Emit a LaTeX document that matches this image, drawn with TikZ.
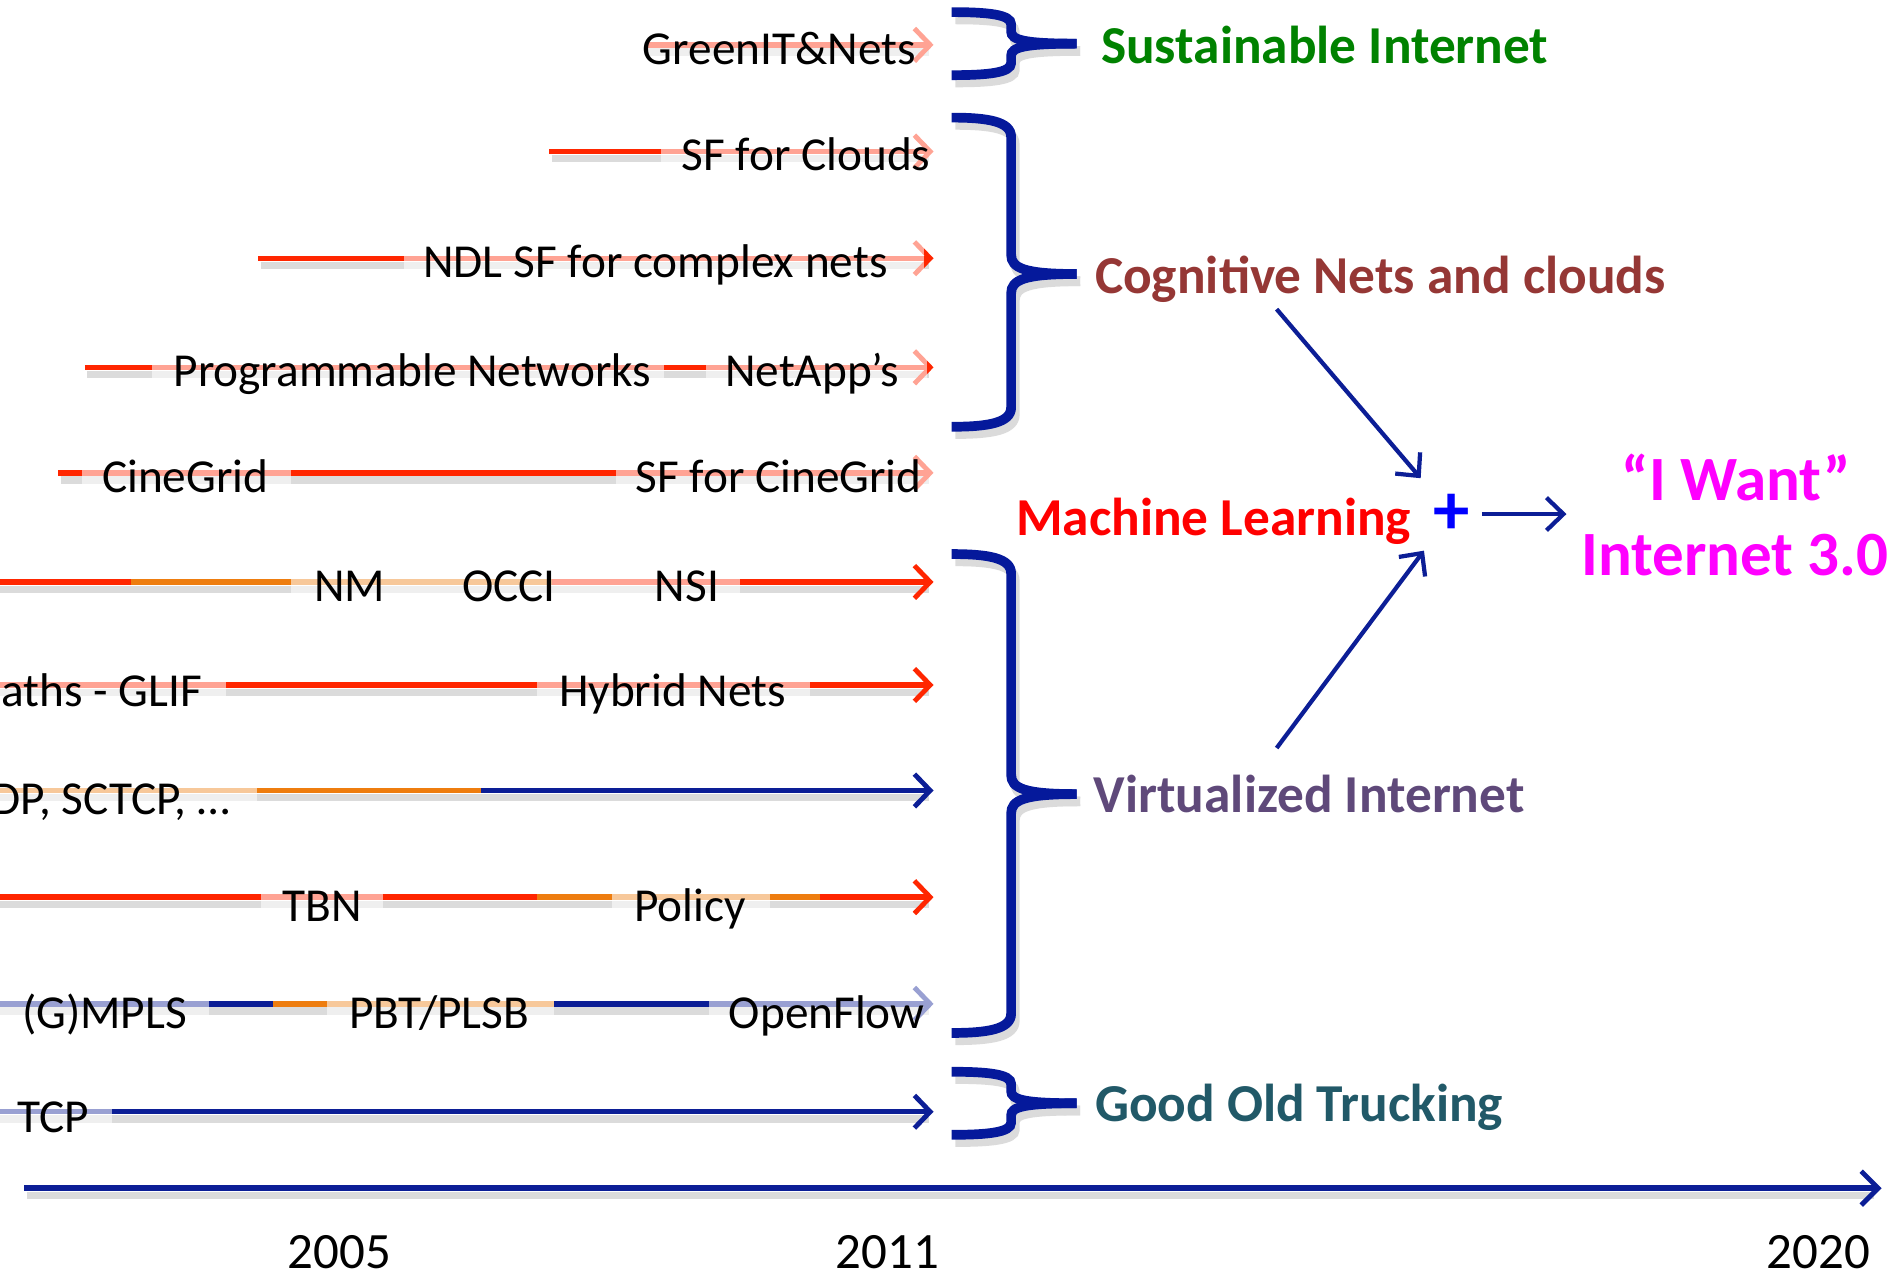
\documentclass[tikz,border=0pt]{standalone}
\usepackage{fontspec}
\setmainfont{Carlito}
\usetikzlibrary{arrows.meta}
\definecolor{lred}{RGB}{255,38,0}
\definecolor{lorange}{RGB}{238,125,15}
\definecolor{navy}{RGB}{12,30,150}
\definecolor{bnavy}{RGB}{5,25,155}
\definecolor{sgreen}{RGB}{0,130,0}
\definecolor{cogn}{RGB}{149,55,53}
\definecolor{virt}{RGB}{95,73,122}
\definecolor{good}{RGB}{33,89,104}
\definecolor{mag}{RGB}{255,0,255}
\definecolor{pureblue}{RGB}{0,0,255}
\definecolor{purered}{RGB}{255,0,0}
\tikzset{
  seg/.style={line width=4.5pt},
  tip/.style={-{Straight Barb[length=13pt,width=27pt,line width=4pt]}},
  shade/.style={line width=6pt, draw=black!14},
  wash/.style={fill=white, fill opacity=0.58},
  rowtext/.style={font=\fontsize{39}{46}\selectfont, inner sep=0pt, anchor=base west},
  bracestyle/.style={draw=bnavy, line width=8pt},
  braceshadow/.style={draw=black!14, line width=8pt},
  grp/.style={font=\fontsize{44}{52}\selectfont\bfseries, inner sep=0pt, anchor=base west},
  yearlbl/.style={font=\fontsize{42}{50}\selectfont, inner sep=0pt, anchor=base},
  thinarrow/.style={draw=navy, line width=3.5pt, -{Straight Barb[length=14pt,width=27pt,line width=3.5pt]}},
}
\newcommand{\bracepath}[5]{%
  \draw[#1] (785,#2) .. controls (815,#2) and (834,#2+0.2*#5) .. (834,#2+#5) -- (834,#3-#5) .. controls (834,#3-0.3*#5) and (845,#3) .. (888,#3);
  \draw[#1] (888,#3) .. controls (845,#3) and (834,#3+0.3*#5) .. (834,#3+#5) -- (834,#4-#5) .. controls (834,#4-0.2*#5) and (815,#4) .. (785,#4);
}
\begin{document}
\begin{tikzpicture}[x=1pt,y=-1pt]
\useasboundingbox (0,0) rectangle (1568,1052);
\clip (0,0) rectangle (1568,1052);

% ---------- Row 1: GreenIT&Nets (y=37)
\draw[shade] (534,43) -- (766,43);
\draw[seg,draw=lred,tip] (532,37) -- (770,37);
\fill[wash] (522,20) rectangle (778,62);
\node[rowtext] (t1) at (530,53) {GreenIT\&Nets};

% ---------- Row 2: SF for Clouds (y=125)
\draw[shade] (455,131) -- (766,131);
\draw[seg,draw=lred,tip] (453,125) -- (770,125);
\fill[wash] (545,108) rectangle (778,150);
\node[rowtext] (t2) at (562,141) {SF for Clouds};

% ---------- Row 3: NDL SF (y=213)
\draw[shade] (215,219) -- (766,219);
\draw[seg,draw=lred,tip] (213,213) -- (770,213);
\fill[wash] (333,196) rectangle (762,238);
\node[rowtext] (t3) at (349,229) {NDL SF for complex nets};

% ---------- Row 4: Programmable Networks - NetApp's (y=303)
\draw[shade] (72,309) -- (766,309);
\draw[seg,draw=lred,tip] (70,303) -- (770,303);
\fill[wash] (125,286) rectangle (548,328);
\fill[wash] (582,286) rectangle (765,328);
\node[rowtext] (t4a) at (143,319) {Programmable Networks};
\node[rowtext] (t4b) at (598,319) {NetApp’s};

% ---------- Row 5: CineGrid (y=390)
\draw[shade] (50,396) -- (766,396);
\draw[seg,draw=lred,tip] (48,390) -- (770,390);
\fill[wash] (68,373) rectangle (240,415);
\fill[wash] (508,373) rectangle (778,415);
\node[rowtext] (t5a) at (84,406) {CineGrid};
\node[rowtext] (t5b) at (524,406) {SF for CineGrid};

% ---------- Row 6: NM OCCI NSI (y=480)
\draw[shade] (0,486) -- (766,486);
\draw[seg,draw=lred] (0,480) -- (108,480);
\draw[seg,draw=lorange] (108,480) -- (455,480);
\draw[seg,draw=lred,tip] (455,480) -- (770,480);
\fill[wash] (240,463) rectangle (610,505);
\node[rowtext] (t6a) at (259,496) {NM};
\node[rowtext] (t6b) at (381,496) {OCCI};
\node[rowtext] (t6c) at (540,496) {NSI};

% ---------- Row 7: GLIF - Hybrid Nets (y=565)
\draw[shade] (0,571) -- (766,571);
\draw[seg,draw=lred,tip] (0,565) -- (770,565);
\fill[wash] (-5,548) rectangle (186,590);
\fill[wash] (443,548) rectangle (668,590);
\node[rowtext,anchor=base east] (t7a) at (167,583) {aths - GLIF};
\node[rowtext] (t7b) at (461,583) {Hybrid Nets};

% ---------- Row 8: SCTCP (y=652)
\draw[shade] (0,658) -- (766,658);
\draw[seg,draw=lorange] (0,652) -- (397,652);
\draw[seg,draw=navy,tip] (397,652) -- (770,652);
\fill[wash] (-5,635) rectangle (212,682);
\node[rowtext,anchor=base east] (t8) at (190,672) {DP, SCTCP, …};

% ---------- Row 9: TBN Policy (y=740)
\draw[shade] (0,746) -- (766,746);
\draw[seg,draw=lred] (0,740) -- (443,740);
\draw[seg,draw=lorange] (443,740) -- (676,740);
\draw[seg,draw=lred,tip] (676,740) -- (770,740);
\fill[wash] (215,723) rectangle (316,768);
\fill[wash] (505,723) rectangle (635,768);
\node[rowtext] (t9a) at (233,760) {TBN};
\node[rowtext] (t9b) at (523,760) {Policy};

% ---------- Row 10: (G)MPLS PBT/PLSB OpenFlow (y=828)
\draw[shade] (0,834) -- (766,834);
\draw[seg,draw=navy] (0,828) -- (225,828);
\draw[seg,draw=lorange] (225,828) -- (457,828);
\draw[seg,draw=navy,tip] (457,828) -- (770,828);
\fill[wash] (-5,811) rectangle (172,856);
\fill[wash] (270,811) rectangle (457,856);
\fill[wash] (585,811) rectangle (778,856);
\node[rowtext] (t10a) at (18,848) {(G)MPLS};
\node[rowtext] (t10b) at (288,848) {PBT/PLSB};
\node[rowtext] (t10c) at (601,848) {OpenFlow};

% ---------- Row 11: TCP (y=917)
\draw[shade] (0,923) -- (766,923);
\draw[seg,draw=navy,tip] (0,917) -- (770,917);
\fill[wash] (-5,900) rectangle (92,942);
\node[rowtext] (t11) at (14,934) {TCP};

% ---------- Braces
\begin{scope}[shift={(3,6)}]
\bracepath{braceshadow}{10}{36}{62}{10}
\bracepath{braceshadow}{97}{226}{352}{16}
\bracepath{braceshadow}{457}{655}{852}{16}
\bracepath{braceshadow}{884}{910}{936}{10}
\end{scope}
\bracepath{bracestyle}{10}{36}{62}{10}
\bracepath{bracestyle}{97}{226}{352}{16}
\bracepath{bracestyle}{457}{655}{852}{16}
\bracepath{bracestyle}{884}{910}{936}{10}

% ---------- Group labels
\node[grp,text=sgreen] (sus) at (908,52) {Sustainable Internet};
\node[grp,text=cogn] (cog) at (903,242) {Cognitive Nets and clouds};
\node[grp,text=purered] (ml) at (838,442) {Machine Learning};
\node[grp,text=virt] (vir) at (902,670) {Virtualized Internet};
\node[grp,text=good] (got) at (903,925) {Good Old Trucking};

% ---------- Plus and Internet 3.0
\node[font=\fontsize{60}{62}\selectfont\bfseries, text=pureblue, minimum width=50pt, minimum height=60pt, inner sep=0pt] (plus) at (1197,424) {+};
\node[font=\fontsize{52}{60}\selectfont\bfseries, text=mag, inner sep=0pt, anchor=base] (iw1) at (1432,413) {“I Want”};
\node[font=\fontsize{52}{60}\selectfont\bfseries, text=mag, inner ysep=0pt, inner xsep=12pt, anchor=base] (iw2) at (1431,475) {Internet 3.0};
\coordinate (c1) at (1053,255);
\coordinate (c2) at (1053,617);
\draw[thinarrow] (c1) -- (plus);
\draw[thinarrow] (c2) -- (plus);
\draw[thinarrow] (plus.east) -- (plus.east -| iw2.west);

% ---------- Time axis
\coordinate (a0) at (20,980);
\coordinate (a1) at (1552,980);
\draw[shade] (22,986) -- (1546,986);
\draw[draw=navy, line width=5pt, -{Straight Barb[length=14pt,width=28pt,line width=4pt]}] (a0) -- (a1);
\node[yearlbl] (y05) at (280,1046) {2005};
\node[yearlbl] (y11) at (732,1046) {2011};
\node[yearlbl] (y20) at (1500,1046) {2020};
\end{tikzpicture}
\end{document}
